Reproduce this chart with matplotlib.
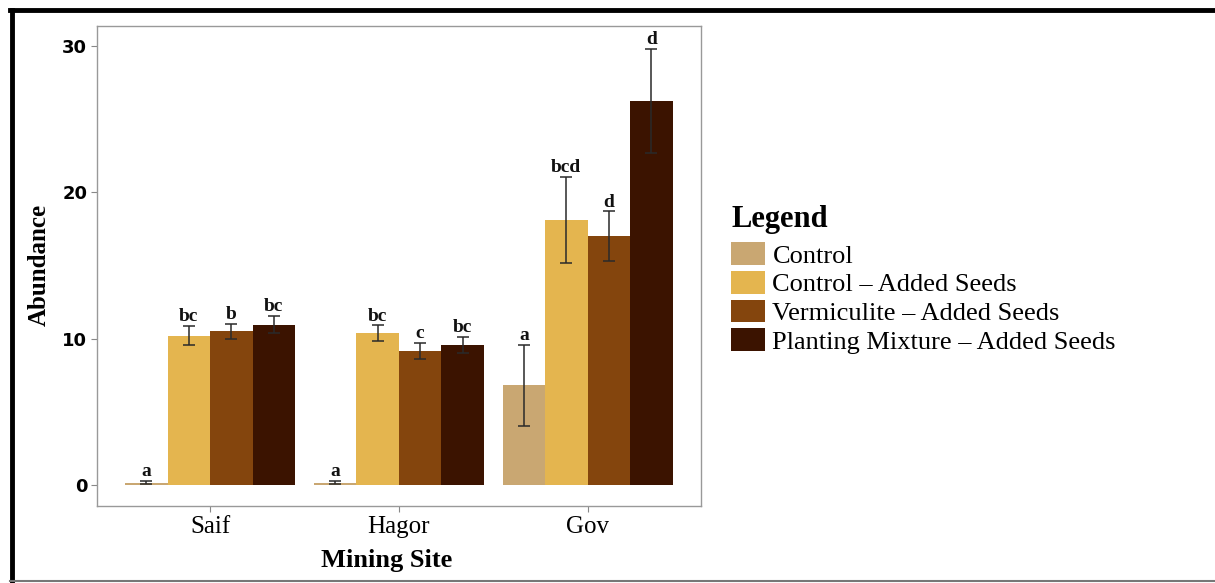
import matplotlib
matplotlib.use("Agg")
import matplotlib.pyplot as plt
from matplotlib.lines import Line2D
from matplotlib.patches import Patch
import numpy as np

# Data: mean abundance and standard error per site and treatment
sites = ["Saif", "Hagor", "Gov"]
treatments = ["Control", "Control \u2013 Added Seeds",
              "Vermiculite \u2013 Added Seeds", "Planting Mixture \u2013 Added Seeds"]
colors = ["#C9A772", "#E4B54F", "#84450D", "#3B1300"]

control_mean = [0.15, 0.15, 6.8]
control_se = [0.1, 0.1, 2.75]
control_seeds_mean = [10.2, 10.35, 18.1]
control_seeds_se = [0.65, 0.55, 2.95]
vermiculite_mean = [10.5, 9.15, 17.0]
vermiculite_se = [0.5, 0.57, 1.7]
mixture_mean = [10.95, 9.55, 26.25]
mixture_se = [0.6, 0.55, 3.55]

letters = [["a", "a", "a"],
           ["bc", "bc", "bcd"],
           ["b", "c", "d"],
           ["bc", "bc", "d"]]

means = [control_mean, control_seeds_mean, vermiculite_mean, mixture_mean]
ses = [control_se, control_seeds_se, vermiculite_se, mixture_se]

serif = ["Liberation Serif", "DejaVu Serif"]

fig = plt.figure(figsize=(12.15, 5.83), dpi=100)
ax = fig.add_axes([0.0798, 0.132, 0.497, 0.823])

x = np.arange(1, len(sites) + 1)
width = 0.225
for i in range(len(treatments)):
    pos = x + (i - 1.5) * width
    ax.bar(pos, means[i], width=width, color=colors[i], label=treatments[i],
           edgecolor="none", zorder=2)
    ax.errorbar(pos, means[i], yerr=ses[i], fmt="none", ecolor="#2a2a2a",
                elinewidth=1.1, capsize=4.5, capthick=1.1, zorder=3)
    for px, m, s, lab in zip(pos, means[i], ses[i], letters[i]):
        ax.annotate(lab, (px, m + s), xytext=(0, 0.5), textcoords="offset points",
                    ha="center", va="bottom", fontsize=14, fontweight="bold",
                    family=serif, color="#111111", zorder=4)

ax.set_xlim(0.4, 3.6)
ax.set_ylim(-1.45, 31.35)
ax.set_xticks(x)
ax.set_xticklabels(sites, family=serif, fontsize=18)
ax.set_yticks([0, 10, 20, 30])
ax.set_yticklabels(["0", "10", "20", "30"], fontsize=13, fontweight="bold",
                   family="DejaVu Sans")
ax.tick_params(axis="both", colors="#888888", length=4, width=0.8,
               labelcolor="black")
ax.tick_params(axis="x", pad=3)
ax.tick_params(axis="y", pad=3)
for sp in ax.spines.values():
    sp.set_color("#999999")
    sp.set_linewidth(1.0)

ax.set_xlabel("Mining Site", family=serif, fontsize=19, fontweight="bold")
ax.xaxis.set_label_coords(0.48, -0.09)
ax.set_ylabel("Abundance", family=serif, fontsize=18, fontweight="bold")
ax.yaxis.set_label_coords(-0.077, 0.502)

handles = [Patch(facecolor=c, edgecolor="none") for c in colors]
leg = fig.legend(handles, treatments, loc="upper left",
                 bbox_to_anchor=(0.593, 0.667), frameon=False,
                 prop={"family": serif, "size": 19},
                 handlelength=1.3, handleheight=0.95, labelspacing=0.12,
                 handletextpad=0.27, borderaxespad=0.0,
                 title="Legend",
                 title_fontproperties={"family": serif, "size": 22,
                                       "weight": "bold"})
leg._legend_box.align = "left"
leg._legend_box.sep = 0.12 * 19 + 4.0

# Page frame around the figure
fig.add_artist(Line2D([0.008, 1.0], [0.982, 0.982], transform=fig.transFigure,
                      color="black", lw=3.5))
fig.add_artist(Line2D([0.0095, 0.0095], [0.0, 0.982], transform=fig.transFigure,
                      color="black", lw=3.5))
fig.add_artist(Line2D([0.008, 1.0], [0.004, 0.004], transform=fig.transFigure,
                      color="#777777", lw=1.5))

fig.savefig("out.png", dpi=100, facecolor="white")
